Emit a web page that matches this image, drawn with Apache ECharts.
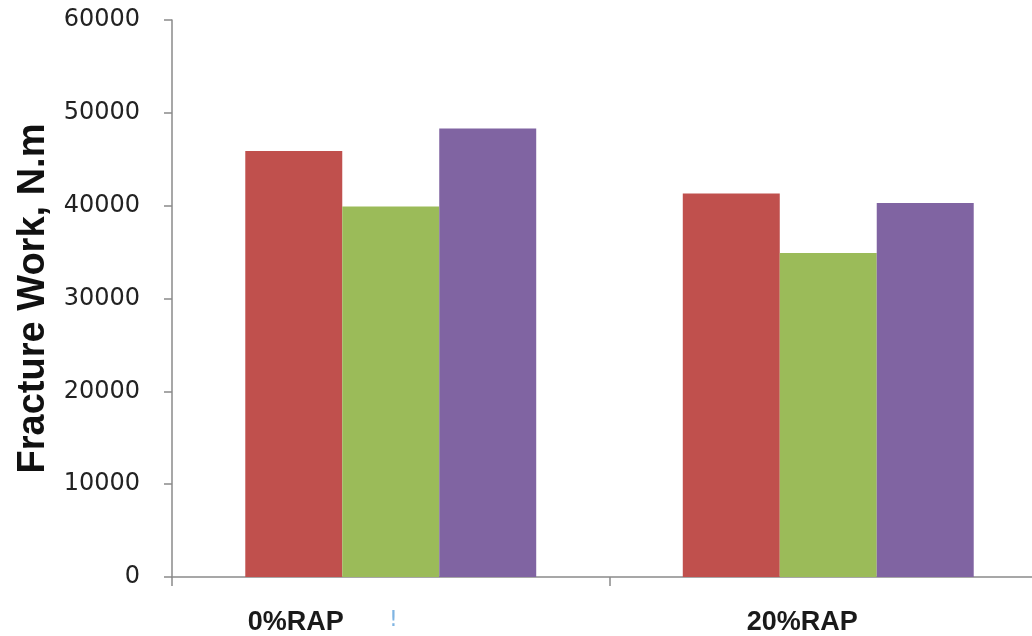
<!DOCTYPE html>
<html>
<head>
<meta charset="utf-8">
<title>Fracture Work</title>
<script src="https://cdn.jsdelivr.net/npm/echarts@6/dist/echarts.min.js"></script>
<style>
  html, body { margin: 0; padding: 0; background: #ffffff; overflow: hidden; }
  /* the plot runs a little past the right edge of the window */
  #chart { width: 1047px; height: 636px; }
</style>
</head>
<body>
<div id="chart"></div>
<script>
// Mix categories (RAP content) on the x axis
const categories = ['0%RAP', '20%RAP'];

// Fracture work per mix, N.m
const series1 = [45900, 41300];
const series2 = [39900, 34900];
const series3 = [48300, 40300];

// Value axis ticks
const yMin = 0;
const yMax = 60000;
const yStep = 10000;

const axisGrey = '#8a8a8a';

const chart = echarts.init(document.getElementById('chart'), null, { renderer: 'canvas' });

function barSeries(name, values, color) {
  return {
    name: name,
    type: 'bar',
    data: values,
    barGap: '0%',
    barCategoryGap: '33.5%',
    itemStyle: { color: color },
    emphasis: { disabled: true }
  };
}

chart.setOption({
  animation: false,
  backgroundColor: '#ffffff',
  grid: { left: 172, right: 0, top: 20, bottom: 57 },
  xAxis: {
    type: 'category',
    data: categories,
    axisLine: { show: true, lineStyle: { color: axisGrey, width: 1.5 } },
    axisTick: { show: true, length: 9, lineStyle: { color: axisGrey, width: 1.5 } },
    axisLabel: {
      margin: 32,
      formatter: function (v, i) { return i === 0 ? '{a|' + v + '}' : '{b|' + v + '}'; },
      rich: {
        a: { fontFamily: 'Liberation Sans', fontWeight: 'bold', fontSize: 27, color: '#1a1a1a', padding: [0, 190, 0, 0] },
        b: { fontFamily: 'Liberation Sans', fontWeight: 'bold', fontSize: 27, color: '#1a1a1a', padding: [0, 52, 0, 0] }
      }
    }
  },
  yAxis: {
    type: 'value',
    min: yMin,
    max: yMax,
    interval: yStep,
    name: 'Fracture Work, N.m',
    nameLocation: 'middle',
    nameGap: 119,
    nameTextStyle: { fontFamily: 'Liberation Sans', fontWeight: 'bold', fontSize: 38, color: '#111111' },
    axisLine: { show: true, lineStyle: { color: axisGrey, width: 1.5 } },
    axisTick: { show: true, length: 8, lineStyle: { color: axisGrey, width: 1.5 } },
    splitLine: { show: false },
    axisLabel: {
      margin: 32,
      fontFamily: 'DejaVu Sans',
      fontSize: 24,
      color: '#222222',
      formatter: function (v) { return String(v); }
    }
  },
  graphic: [
    {
      type: 'text',
      left: 389,
      top: 609,
      style: { text: '!', font: '22px "DejaVu Sans"', fill: '#7fb4e2' }
    }
  ],
  series: [
    barSeries('Series 1', series1, '#C0504D'),
    barSeries('Series 2', series2, '#9BBB59'),
    barSeries('Series 3', series3, '#8064A2')
  ]
});
</script>
</body>
</html>
